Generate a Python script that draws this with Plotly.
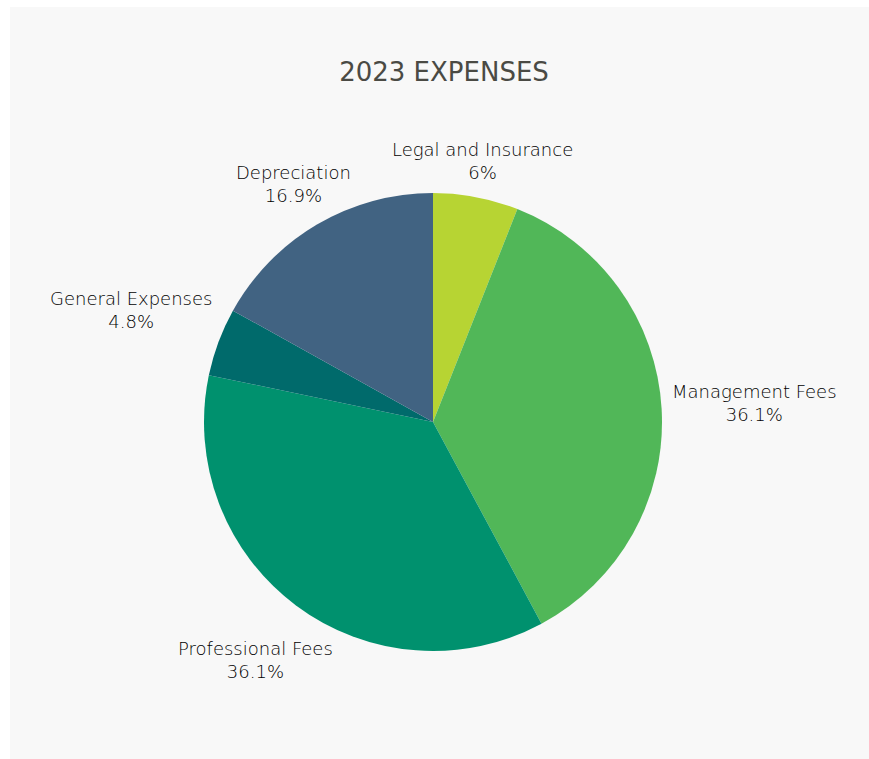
import math
import plotly.graph_objects as go

# Expense categories, clockwise from 12 o'clock
categories = ["Legal and Insurance", "Management Fees", "Professional Fees",
              "General Expenses", "Depreciation"]
shares = [6, 36.1, 36.1, 4.8, 16.9]  # percent of total expenses
slice_colors = ["#b7d433", "#51b758", "#00916e", "#006a6b", "#416382"]

W, H = 869, 759
cx, cy, r = 433, 422, 229
LABEL_FONT = dict(family="DejaVu Sans, sans-serif", size=18, color="#000000", weight=200)

fig = go.Figure(go.Pie(
    labels=categories,
    values=shares,
    sort=False,
    direction="clockwise",
    rotation=0,
    marker=dict(colors=slice_colors, line=dict(width=0)),
    textinfo="none",
    hoverinfo="label+percent",
    showlegend=False,
    domain=dict(x=[(cx - r) / W, (cx + r) / W],
                y=[1 - (cy + r) / H, 1 - (cy - r) / H]),
))

# Outside labels: each sits on its slice's mid-angle ray, just clear of the rim
total = sum(shares)
annotations = []
cum = 0.0
gap = 9
for name, v in zip(categories, shares):
    theta = math.radians(360 * (cum + v / 2) / total)
    cum += v
    ux, uy = math.sin(theta), -math.cos(theta)
    half_w = 0.31 * LABEL_FONT["size"] * len(name)
    half_h = 19
    extra = math.hypot(half_w * ux, half_h * uy)
    dist = r + gap + extra
    px, py = cx + dist * ux, cy + dist * uy
    annotations.append(dict(
        x=px / W, y=1 - py / H, xref="paper", yref="paper",
        xanchor="center", yanchor="middle", showarrow=False,
        text=f"{name}<br>{v:g}%", align="center", font=LABEL_FONT,
    ))

fig.update_layout(
    width=W, height=H,
    margin=dict(l=0, r=0, t=0, b=0),
    paper_bgcolor="#ffffff",
    title=dict(text="2023 EXPENSES", x=(cx + 11) / W, xanchor="center",
               y=1 - 72 / H, yanchor="middle",
               font=dict(family="DejaVu Sans, sans-serif", size=26, color="#4a4a44")),
    annotations=annotations,
    shapes=[dict(type="rect", xref="paper", yref="paper",
                 x0=10 / W, x1=1, y0=0, y1=1 - 7 / H,
                 fillcolor="#f8f8f8", line=dict(width=0), layer="below")],
)

fig.write_html("out.html")
